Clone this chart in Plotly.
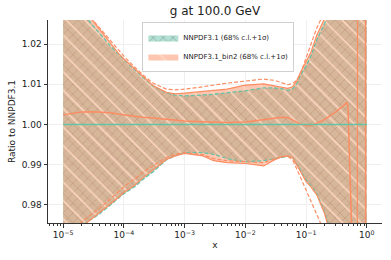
import plotly.graph_objects as go

# ---------------- data ----------------
X = [1e-5, 1.5e-5, 2e-5, 3e-5, 4e-5, 6e-5, 8e-5, 1e-4, 1.5e-4, 2e-4, 3e-4, 5e-4, 7e-4,
     1e-3, 2e-3, 3e-3, 5e-3, 1e-2, 2e-2, 3e-2, 4e-2, 5e-2, 6e-2, 7e-2, 8e-2, 0.1, 0.12,
     0.15, 0.2, 0.25, 0.3, 0.4, 0.5, 0.7, 1.0]

# NNPDF3.1 : 68% c.l. band (edges also drawn dashed as the 1-sigma lines)
nn31_hi = [1.036, 1.0305, 1.028, 1.0248, 1.0226, 1.0195, 1.0176, 1.0161, 1.0136, 1.0119,
           1.0096, 1.0079, 1.0073, 1.0071, 1.0073, 1.0075, 1.0079, 1.0084, 1.0091, 1.0091,
           1.0089, 1.0085, 1.0089, 1.0101, 1.0121, 1.0146, 1.0171, 1.0211, 1.025, 1.028,
           1.031, 1.045, 1.08, 1.2, 1.3]
nn31_lo = [0.970, 0.9723, 0.9748, 0.9765, 0.9778, 0.980, 0.9815, 0.9828, 0.9845, 0.9862,
           0.9882, 0.9912, 0.9922, 0.993, 0.993, 0.9926, 0.9915, 0.9907, 0.991, 0.9915,
           0.9918, 0.9921, 0.9917, 0.9902, 0.9887, 0.9862, 0.9848, 0.9828, 0.9783, 0.9738,
           0.969, 0.95, 0.92, 0.8, 0.7]
nn31_cv_x = [1e-5, 1.0]
nn31_cv = [1.0, 1.0]

# NNPDF3.1_bin2 : 68% c.l. band
bin2_hi = [1.037, 1.032, 1.0295, 1.026, 1.0235, 1.0200, 1.0178, 1.0163, 1.0138, 1.0120,
           1.0097, 1.0080, 1.0076, 1.0078, 1.0082, 1.0085, 1.0088, 1.0098, 1.0101, 1.0096,
           1.0093, 1.0090, 1.0094, 1.0108, 1.0128, 1.0155, 1.018, 1.0222, 1.026, 1.029,
           1.032, 1.046, 1.08, 1.2, 1.3]
bin2_lo = [0.969, 0.9720, 0.9745, 0.9766, 0.9780, 0.9803, 0.9818, 0.9831, 0.9849, 0.9866,
           0.9886, 0.9913, 0.9922, 0.9928, 0.9922, 0.9910, 0.9905, 0.9903, 0.9897, 0.9912,
           0.9920, 0.9922, 0.9918, 0.9900, 0.9882, 0.9858, 0.9845, 0.9825, 0.9780, 0.9735,
           0.9685, 0.95, 0.92, 0.8, 0.7]
# 1-sigma lines of bin2
bin2_s_hi = [1.040, 1.035, 1.031, 1.0262, 1.0240, 1.0208, 1.0186, 1.0170, 1.0143, 1.0125,
             1.0103, 1.0088, 1.0086, 1.0088, 1.0094, 1.0098, 1.0103, 1.0108, 1.0113, 1.0110,
             1.0104, 1.0099, 1.0102, 1.0110, 1.0125, 1.0165, 1.0195, 1.0240, 1.028, 1.031,
             1.034, 1.05, 1.09, 1.2, 1.3]
bin2_s_lo = [0.971, 0.9735, 0.9758, 0.9778, 0.9792, 0.9815, 0.9832, 0.9845, 0.9865, 0.9880,
             0.9897, 0.9918, 0.9926, 0.9930, 0.9925, 0.9915, 0.9910, 0.9908, 0.9905, 0.9915,
             0.9920, 0.9921, 0.9912, 0.9890, 0.9870, 0.9835, 0.9805, 0.9775, 0.9735, 0.970,
             0.966, 0.95, 0.92, 0.8, 0.7]
# large-x behaviour of bin2 band edges
bin2_lo_tail_x = [0.69, 0.71]
bin2_lo_tail = [0.90, 1.10]
bin2_hi_tail_x = [0.94, 0.96]
bin2_hi_tail = [1.10, 0.90]
# bin2 central value
bin2_cv_x = [1e-5, 1.5e-5, 2e-5, 3e-5, 4e-5, 6e-5, 8e-5, 1e-4, 1.5e-4, 2e-4, 3e-4, 5e-4,
             7e-4, 1e-3, 2e-3, 3e-3, 5e-3, 1e-2, 2e-2, 3e-2, 4e-2, 5e-2, 6e-2, 7e-2, 8e-2,
             0.1, 0.12, 0.15, 0.2, 0.25, 0.3, 0.4, 0.47, 0.49, 0.56, 0.6]
bin2_cv = [1.0024, 1.0028, 1.0031, 1.0032, 1.0031, 1.0029, 1.0026, 1.0024, 1.0020, 1.0018,
           1.0016, 1.0013, 1.0011, 1.0009, 1.0007, 1.0006, 1.0005, 1.0006, 1.0012, 1.0016,
           1.0018, 1.0017, 1.0012, 1.0006, 1.0001, 0.9997, 0.9997, 1.0003, 1.0012, 1.0022,
           1.0030, 1.0045, 1.0055, 1.0040, 0.975, 0.96]

labels = ["NNPDF3.1 (68% c.l.+1σ)", "NNPDF3.1_bin2 (68% c.l.+1σ)"]
x_ticks = [1e-5, 1e-4, 1e-3, 1e-2, 1e-1, 1.0]
x_tick_text = ["10<sup>−5</sup>", "10<sup>−4</sup>", "10<sup>−3</sup>",
               "10<sup>−2</sup>", "10<sup>−1</sup>", "10<sup>0</sup>"]
y_ticks = [0.98, 0.99, 1.00, 1.01, 1.02]
y_tick_text = ["0.98", "0.99", "1.00", "1.01", "1.02"]

GREEN = "#66c2a5"
ORANGE = "#fc8d62"

fig = go.Figure()

# NNPDF3.1 band
fig.add_trace(go.Scatter(x=X, y=nn31_lo, mode="lines", line=dict(width=0),
                         showlegend=False, hoverinfo="skip"))
fig.add_trace(go.Scatter(x=X, y=nn31_hi, mode="lines", line=dict(width=0),
                         fill="tonexty", fillcolor="rgba(102,194,165,0.5)",
                         fillpattern=dict(shape="x", size=7, solidity=0.16,
                                          fgcolor="rgba(70,70,70,0.45)",
                                          bgcolor="rgba(102,194,165,0.5)", fillmode="replace"),
                         name=labels[0], showlegend=True, hoverinfo="skip"))
# bin2 band
fig.add_trace(go.Scatter(x=X, y=bin2_lo, mode="lines", line=dict(width=0),
                         showlegend=False, hoverinfo="skip"))
fig.add_trace(go.Scatter(x=X, y=bin2_hi, mode="lines", line=dict(width=0),
                         fill="tonexty", fillcolor="rgba(252,141,98,0.5)",
                         fillpattern=dict(shape="\\", size=13, solidity=0.12,
                                          fgcolor="rgba(255,215,195,0.95)",
                                          bgcolor="rgba(252,141,98,0.5)", fillmode="replace"),
                         name=labels[1], showlegend=True, hoverinfo="skip"))

# NNPDF3.1 dashed edges
for arr in (nn31_hi, nn31_lo):
    fig.add_trace(go.Scatter(x=X, y=arr, mode="lines", showlegend=False, hoverinfo="skip",
                             line=dict(color=GREEN, width=1.3, dash="4px,2px")))
# bin2 68% edges (solid) with large-x tails
fig.add_trace(go.Scatter(x=X[:-2] + bin2_lo_tail_x, y=bin2_lo[:-2] + bin2_lo_tail,
                         mode="lines", showlegend=False, hoverinfo="skip",
                         line=dict(color=ORANGE, width=1.2)))
fig.add_trace(go.Scatter(x=X[:-2] + bin2_hi_tail_x, y=bin2_hi[:-2] + bin2_hi_tail,
                         mode="lines", showlegend=False, hoverinfo="skip",
                         line=dict(color=ORANGE, width=1.2)))
# bin2 1-sigma dashed lines
for arr in (bin2_s_hi, bin2_s_lo):
    fig.add_trace(go.Scatter(x=X, y=arr, mode="lines", showlegend=False, hoverinfo="skip",
                             line=dict(color=ORANGE, width=1.2, dash="4px,2px")))
# central values
fig.add_trace(go.Scatter(x=bin2_cv_x, y=bin2_cv, mode="lines", showlegend=False,
                         hoverinfo="skip", line=dict(color=ORANGE, width=1.5)))
fig.add_trace(go.Scatter(x=nn31_cv_x, y=nn31_cv, mode="lines", showlegend=False,
                         hoverinfo="skip", line=dict(color=GREEN, width=1.5)))

FONT = "DejaVu Sans"
fig.update_layout(
    width=391, height=260,
    margin=dict(l=48, r=9, t=20, b=37, autoexpand=False),
    paper_bgcolor="white", plot_bgcolor="white",
    font=dict(family=FONT, size=9, color="#222"),
    title=dict(text="g at 100.0 GeV", x=0.5, xref="paper", xanchor="center",
               y=1 - 11 / 260, yref="container", yanchor="middle",
               font=dict(family=FONT, size=12, color="#222")),
    legend=dict(x=0.51, xanchor="center", y=0.99, yanchor="top",
                bgcolor="rgba(255,255,255,0.9)", bordercolor="#d0d0d0", borderwidth=1,
                font=dict(family=FONT, size=7, color="#222"), traceorder="normal",
                itemwidth=30, tracegroupgap=0),
    showlegend=True,
    hovermode=False,
)
fig.update_xaxes(type="log", range=[-5.25, 0.25], tickvals=x_ticks, ticktext=x_tick_text,
                 showline=True, linecolor="#333", linewidth=1,
                 ticks="outside", ticklen=3.5, tickcolor="#333", tickwidth=0.8,
                 showgrid=True, gridcolor="#efefef", gridwidth=0.8, zeroline=False,
                 tickfont=dict(family=FONT, size=9), automargin=False,
                 minor=dict(ticks="outside", ticklen=2, tickcolor="#333", tickwidth=0.6,
                            dtick="D1", showgrid=False),
                 title=dict(text="x", font=dict(family=FONT, size=9), standoff=2))
fig.update_yaxes(range=[0.9755, 1.026], tickvals=y_ticks, ticktext=y_tick_text,
                 showline=True, linecolor="#333", linewidth=1,
                 ticks="outside", ticklen=3.5, tickcolor="#333", tickwidth=0.8,
                 showgrid=True, gridcolor="#efefef", gridwidth=0.8, zeroline=False,
                 tickfont=dict(family=FONT, size=9), automargin=False,
                 title=dict(text="Ratio to NNPDF3.1", font=dict(family=FONT, size=9),
                            standoff=4))

fig.write_html("out.html", config={"displayModeBar": False},
               post_script="document.body.style.margin='0px';document.body.style.padding='0px';")
